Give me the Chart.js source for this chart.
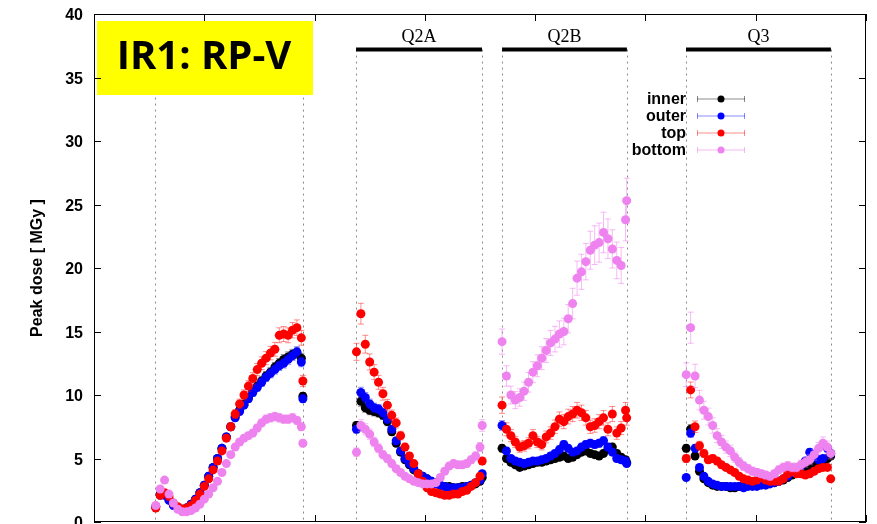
<!DOCTYPE html>
<html>
<head>
<meta charset="utf-8">
<script src="https://cdn.jsdelivr.net/npm/chart.js@4.4.0/dist/chart.umd.min.js"></script>
<style>
  html, body { margin: 0; padding: 0; background: #fff; }
  #frame { width: 877px; height: 524px; overflow: hidden; }
</style>
</head>
<body>
<div id="frame"><canvas id="dose" width="877" height="555"></canvas></div>
<script>
// distance from IP [m] for each measured point, one array per magnet
const xQ1 = [22.8, 23.0, 23.2, 23.4, 23.6, 23.8, 24.0, 24.2, 24.4, 24.6, 24.8, 25.0, 25.2, 25.4, 25.6, 25.8, 26.0, 26.2, 26.4, 26.6, 26.8, 27.0, 27.2, 27.4, 27.6, 27.8, 28.0, 28.2, 28.4, 28.6, 28.8, 29.0, 29.2, 29.4, 29.47];
const xQ2A = [31.9, 32.1, 32.3, 32.5, 32.7, 32.9, 33.1, 33.3, 33.5, 33.7, 33.9, 34.1, 34.3, 34.5, 34.7, 34.9, 35.1, 35.3, 35.5, 35.7, 35.9, 36.1, 36.3, 36.5, 36.7, 36.9, 37.1, 37.3, 37.5, 37.6];
const xQ2B = [38.5, 38.7, 38.9, 39.1, 39.3, 39.5, 39.7, 39.9, 40.1, 40.3, 40.5, 40.7, 40.9, 41.1, 41.3, 41.5, 41.7, 41.9, 42.1, 42.3, 42.5, 42.7, 42.9, 43.1, 43.3, 43.5, 43.7, 43.9, 44.1, 44.15];
const xQ3 = [46.85, 47.05, 47.25, 47.45, 47.65, 47.85, 48.05, 48.25, 48.45, 48.65, 48.85, 49.05, 49.25, 49.45, 49.65, 49.85, 50.05, 50.25, 50.45, 50.65, 50.85, 51.05, 51.25, 51.45, 51.65, 51.85, 52.05, 52.25, 52.45, 52.65, 52.85, 53.05, 53.25, 53.4];

// peak dose [MGy]
const innerQ1 = [1.2, 2.2, 2.2, 1.8, 1.4, 1.1, 1.0, 1.1, 1.4, 1.8, 2.3, 2.9, 3.6, 4.3, 5.0, 5.8, 6.7, 7.5, 8.3, 8.8, 9.3, 9.8, 10.3, 10.7, 11.1, 11.5, 11.8, 12.2, 12.5, 12.8, 13.0, 13.2, 13.3, 12.9, 9.9];
const outerQ1 = [1.2, 2.1, 2.1, 1.7, 1.3, 1.1, 1.0, 1.1, 1.4, 1.8, 2.3, 2.9, 3.6, 4.3, 5.0, 5.8, 6.7, 7.5, 8.2, 8.7, 9.2, 9.7, 10.2, 10.6, 11.0, 11.4, 11.7, 12.0, 12.3, 12.5, 12.8, 13.1, 13.4, 12.6, 9.7];
const topQ1 = [1.1, 2.1, 2.3, 2.0, 1.5, 1.2, 1.0, 1.1, 1.3, 1.7, 2.2, 2.8, 3.4, 4.1, 4.8, 5.6, 6.6, 7.5, 8.5, 9.3, 10.0, 10.7, 11.3, 12.0, 12.5, 12.9, 13.3, 13.6, 14.7, 14.8, 14.7, 15.1, 15.3, 14.5, 11.1];
const bottomQ1 = [1.3, 2.6, 3.3, 2.2, 1.5, 1.0, 0.8, 0.8, 0.9, 1.1, 1.4, 1.8, 2.2, 2.7, 3.2, 3.9, 4.6, 5.3, 5.9, 6.3, 6.6, 6.8, 7.0, 7.4, 7.8, 8.1, 8.2, 8.3, 8.2, 8.1, 8.1, 8.2, 8.0, 7.5, 6.2];

const innerQ2A = [7.6, 9.5, 9.0, 8.8, 8.7, 8.6, 8.4, 7.9, 7.1, 6.2, 5.5, 4.9, 4.5, 4.1, 3.8, 3.6, 3.4, 3.2, 3.1, 2.9, 2.8, 2.8, 2.7, 2.7, 2.8, 2.8, 2.9, 3.0, 3.2, 3.5];
const outerQ2A = [7.3, 10.2, 9.8, 9.3, 9.0, 8.9, 8.6, 8.1, 7.3, 6.4, 5.6, 5.0, 4.6, 4.2, 3.8, 3.6, 3.4, 3.2, 3.0, 2.9, 2.8, 2.7, 2.7, 2.7, 2.7, 2.8, 2.9, 3.1, 3.3, 3.8];
const topQ2A = [13.4, 16.4, 14.0, 12.6, 11.8, 11.0, 10.1, 9.2, 8.4, 7.8, 6.8, 5.9, 5.2, 4.6, 3.8, 3.2, 2.7, 2.4, 2.3, 2.2, 2.1, 2.1, 2.2, 2.2, 2.4, 2.5, 2.8, 3.1, 3.6, 4.8];
const bottomQ2A = [5.5, 7.6, 7.3, 6.9, 6.3, 5.8, 5.3, 5.0, 4.6, 4.2, 3.9, 3.6, 3.4, 3.2, 3.1, 3.0, 3.0, 3.0, 3.1, 3.5, 4.0, 4.4, 4.6, 4.5, 4.5, 4.6, 4.9, 5.2, 5.9, 7.6];

const innerQ2B = [5.8, 5.0, 4.7, 4.5, 4.3, 4.4, 4.5, 4.6, 4.7, 4.7, 4.8, 4.9, 5.0, 5.1, 5.2, 5.0, 5.1, 5.3, 5.5, 5.6, 5.4, 5.3, 5.2, 5.4, 5.7, 5.9, 5.4, 5.1, 4.9, 4.7];
const outerQ2B = [7.6, 5.6, 5.0, 4.8, 4.7, 4.6, 4.7, 4.8, 4.8, 4.9, 5.0, 5.2, 5.4, 5.7, 6.1, 5.8, 5.5, 5.6, 5.9, 6.1, 6.2, 6.1, 6.2, 6.4, 5.9, 5.5, 5.0, 4.9, 4.8, 4.6];
const topQ2B = [9.2, 7.3, 6.8, 6.3, 5.9, 6.0, 6.2, 6.8, 6.3, 6.1, 6.7, 7.0, 7.5, 8.1, 7.9, 8.3, 8.5, 8.8, 8.6, 8.2, 7.5, 7.6, 7.9, 8.2, 7.3, 8.5, 7.0, 7.4, 8.8, 8.2];
const bottomQ2B = [14.2, 11.5, 10.0, 9.6, 9.8, 10.3, 11.0, 11.8, 12.3, 12.9, 13.5, 14.1, 14.4, 14.8, 15.0, 16.0, 17.2, 19.2, 19.7, 20.5, 21.4, 21.8, 22.0, 22.8, 22.3, 21.5, 20.6, 20.2, 23.8, 25.3];

const innerQ3 = [5.8, 7.3, 5.2, 4.0, 3.4, 3.1, 2.9, 2.8, 2.8, 2.8, 2.7, 2.7, 2.8, 2.8, 2.9, 2.9, 3.0, 3.0, 3.0, 3.1, 3.1, 3.2, 3.3, 3.5, 3.7, 3.9, 4.1, 4.3, 4.4, 4.6, 4.7, 4.8, 5.0, 5.2];
const outerQ3 = [3.5, 7.0, 5.8, 4.3, 3.6, 3.2, 3.0, 2.9, 2.8, 2.8, 2.8, 2.8, 2.8, 2.7, 2.8, 2.8, 2.8, 2.9, 2.9, 3.0, 3.1, 3.2, 3.4, 3.6, 3.9, 4.1, 4.4, 4.8, 5.5, 5.2, 4.9, 5.0, 5.8, 5.4];
const topQ3 = [5.0, 10.4, 7.5, 6.0, 5.4, 4.9, 5.0, 4.8, 4.5, 4.3, 4.1, 3.9, 3.6, 3.4, 3.3, 3.2, 3.3, 3.5, 3.3, 3.2, 3.2, 3.2, 3.4, 3.8, 4.0, 3.8, 3.8, 3.7, 3.8, 4.0, 4.2, 4.3, 4.3, 3.4];
const bottomQ3 = [11.6, 15.3, 11.5, 9.6, 8.8, 8.3, 7.6, 6.8, 6.3, 5.9, 5.6, 5.1, 4.7, 4.4, 4.2, 4.0, 3.9, 3.8, 3.7, 3.6, 3.8, 4.1, 4.3, 4.4, 4.3, 4.3, 4.5, 4.7, 4.9, 5.3, 5.8, 6.2, 5.9, 5.4];

// relative uncertainty per magnet (Q1, Q2A, Q2B, Q3)
const relErrInner = [0.03, 0.04, 0.05, 0.05];
const relErrOuter = [0.03, 0.04, 0.05, 0.05];
const relErrTop = [0.04, 0.05, 0.07, 0.06];
const relErrBottom = [0.04, 0.06, 0.07, 0.08];

// magnet layout
const magnetNames = ['Q1', 'Q2A', 'Q2B', 'Q3'];
const magnetStart = [22.77, 31.88, 38.50, 46.84];
const magnetEnd = [29.47, 37.59, 44.16, 53.41];
const barLevel = 37.2;

const seriesNames = ['inner', 'outer', 'top', 'bottom'];
const seriesColors = ['#000000', '#0000ff', '#ff0000', '#ee82ee'];
const errColors = ['rgba(0,0,0,0.45)', 'rgba(0,0,255,0.45)', 'rgba(255,0,0,0.45)', 'rgba(238,130,238,0.55)'];

const xs = [xQ1, xQ2A, xQ2B, xQ3];
const build = (parts, rel) => {
    const pts = [];
    parts.forEach((ys, s) => {
        ys.forEach((v, i) => pts.push({ x: xs[s][i], y: v, e: v * rel[s] }));
    });
    return pts;
};

const seriesData = [
    build([innerQ1, innerQ2A, innerQ2B, innerQ3], relErrInner),
    build([outerQ1, outerQ2A, outerQ2B, outerQ3], relErrOuter),
    build([topQ1, topQ2A, topQ2B, topQ3], relErrTop),
    build([bottomQ1, bottomQ2A, bottomQ2B, bottomQ3], relErrBottom)
];

const decor = {
    id: 'decor',
    beforeDatasetsDraw(chart) {
        const { ctx, chartArea: a, scales: { x, y } } = chart;
        // dotted magnet edges
        ctx.save();
        ctx.strokeStyle = '#8a8a8a';
        ctx.lineWidth = 1;
        ctx.setLineDash([2, 4]);
        magnetStart.concat(magnetEnd).forEach(m => {
            const px = Math.round(x.getPixelForValue(m)) + 0.5;
            ctx.beginPath();
            ctx.moveTo(px, y.getPixelForValue(barLevel));
            ctx.lineTo(px, a.bottom);
            ctx.stroke();
        });
        ctx.restore();
    },
    beforeDatasetDraw(chart, args) {
        // error bars under each series' points
        const { ctx, chartArea: a, scales: { x, y } } = chart;
        const i = args.index;
        ctx.save();
        ctx.beginPath();
        ctx.rect(a.left, a.top, a.right - a.left, a.bottom - a.top);
        ctx.clip();
        ctx.strokeStyle = errColors[i];
        ctx.lineWidth = 1;
        ctx.beginPath();
        seriesData[i].forEach(p => {
            const px = x.getPixelForValue(p.x);
            const y1 = y.getPixelForValue(p.y - p.e);
            const y2 = y.getPixelForValue(p.y + p.e);
            ctx.moveTo(px, y1); ctx.lineTo(px, y2);
            ctx.moveTo(px - 3, y1); ctx.lineTo(px + 3, y1);
            ctx.moveTo(px - 3, y2); ctx.lineTo(px + 3, y2);
        });
        ctx.stroke();
        ctx.restore();
    },
    afterDatasetsDraw(chart) {
        const { ctx, chartArea: a, scales: { x, y } } = chart;
        ctx.save();

        // magnet bars and names
        const by = y.getPixelForValue(barLevel);
        magnetNames.forEach((n, k) => {
            const x1 = x.getPixelForValue(magnetStart[k]);
            const x2 = x.getPixelForValue(magnetEnd[k]);
            ctx.strokeStyle = '#000';
            ctx.lineWidth = 4;
            ctx.beginPath();
            ctx.moveTo(x1, by); ctx.lineTo(x2, by);
            ctx.stroke();
            ctx.fillStyle = '#000';
            ctx.font = '18px "Liberation Serif"';
            ctx.textAlign = 'center';
            ctx.textBaseline = 'alphabetic';
            ctx.fillText(n, (x1 + x2) / 2, by - 8);
        });

        // yellow label box
        ctx.fillStyle = '#ffff00';
        ctx.fillRect(a.left + 3, a.top + 7, 216, 74);
        ctx.fillStyle = '#000';
        ctx.font = 'bold 40px "Open Sans"';
        ctx.textAlign = 'center';
        ctx.textBaseline = 'middle';
        ctx.fillText('IR1: RP-V', a.left + 110, a.top + 44);

        // legend
        const lx = 686, ly = 99;
        seriesNames.forEach((n, k) => {
            const yy = ly + k * 17;
            ctx.fillStyle = '#000';
            ctx.font = 'bold 16px "Liberation Sans"';
            ctx.textAlign = 'right';
            ctx.textBaseline = 'middle';
            ctx.fillText(n, lx, yy + 1);
            ctx.strokeStyle = errColors[k];
            ctx.lineWidth = 1;
            ctx.beginPath();
            ctx.moveTo(lx + 11, yy); ctx.lineTo(lx + 59, yy);
            ctx.moveTo(lx + 11.5, yy - 3); ctx.lineTo(lx + 11.5, yy + 3);
            ctx.moveTo(lx + 58.5, yy - 3); ctx.lineTo(lx + 58.5, yy + 3);
            ctx.stroke();
            ctx.fillStyle = seriesColors[k];
            ctx.beginPath();
            ctx.arc(lx + 35, yy, 3.5, 0, Math.PI * 2);
            ctx.fill();
        });

        // frame with inward ticks
        ctx.strokeStyle = '#000';
        ctx.lineWidth = 1;
        ctx.strokeRect(a.left + 0.5, a.top + 0.5, a.right - a.left - 1, a.bottom - a.top - 1);
        ctx.beginPath();
        y.ticks.forEach(t => {
            const py = Math.round(y.getPixelForValue(t.value)) + 0.5;
            ctx.moveTo(a.left, py); ctx.lineTo(a.left + 7, py);
            ctx.moveTo(a.right, py); ctx.lineTo(a.right - 7, py);
        });
        x.ticks.forEach(t => {
            const px = Math.round(x.getPixelForValue(t.value)) + 0.5;
            ctx.moveTo(px, a.bottom); ctx.lineTo(px, a.bottom - 7);
            ctx.moveTo(px, a.top); ctx.lineTo(px, a.top + 7);
        });
        ctx.stroke();
        ctx.restore();
    }
};

const ctx = document.getElementById('dose').getContext('2d');
new Chart(ctx, {
    type: 'scatter',
    data: {
        datasets: seriesNames.map((n, k) => ({
            label: n,
            data: seriesData[k],
            backgroundColor: seriesColors[k],
            borderColor: seriesColors[k],
            pointRadius: 4.5,
            pointHoverRadius: 4.5,
            pointBorderWidth: 0,
            order: 4 - k
        }))
    },
    options: {
        responsive: false,
        animation: false,
        layout: { padding: { left: 0, top: 14, right: 11, bottom: 0 } },
        plugins: {
            legend: { display: false },
            tooltip: { enabled: false }
        },
        scales: {
            x: {
                type: 'linear',
                min: 20,
                max: 55,
                grid: { display: false, drawTicks: false },
                border: { display: false },
                ticks: { stepSize: 5, color: '#000', font: { family: 'Liberation Sans', size: 16, weight: 'bold' } },
                afterFit: s => { s.height = 33; s.paddingLeft = 0; s.paddingRight = 0; }
            },
            y: {
                min: 0,
                max: 40,
                grid: { display: false, drawTicks: false },
                border: { display: false },
                ticks: { stepSize: 5, padding: 11, labelOffset: 2, color: '#000', font: { family: 'Liberation Sans', size: 16, weight: 'bold' } },
                title: {
                    display: true,
                    text: 'Peak dose [ MGy ]',
                    color: '#000',
                    padding: { top: 28, bottom: 0 },
                    font: { family: 'Liberation Sans', size: 16, weight: 'bold' }
                },
                afterFit: s => { s.width = 94; s.paddingTop = 0; s.paddingBottom = 0; }
            }
        }
    },
    plugins: [decor]
});
</script>
</body>
</html>
